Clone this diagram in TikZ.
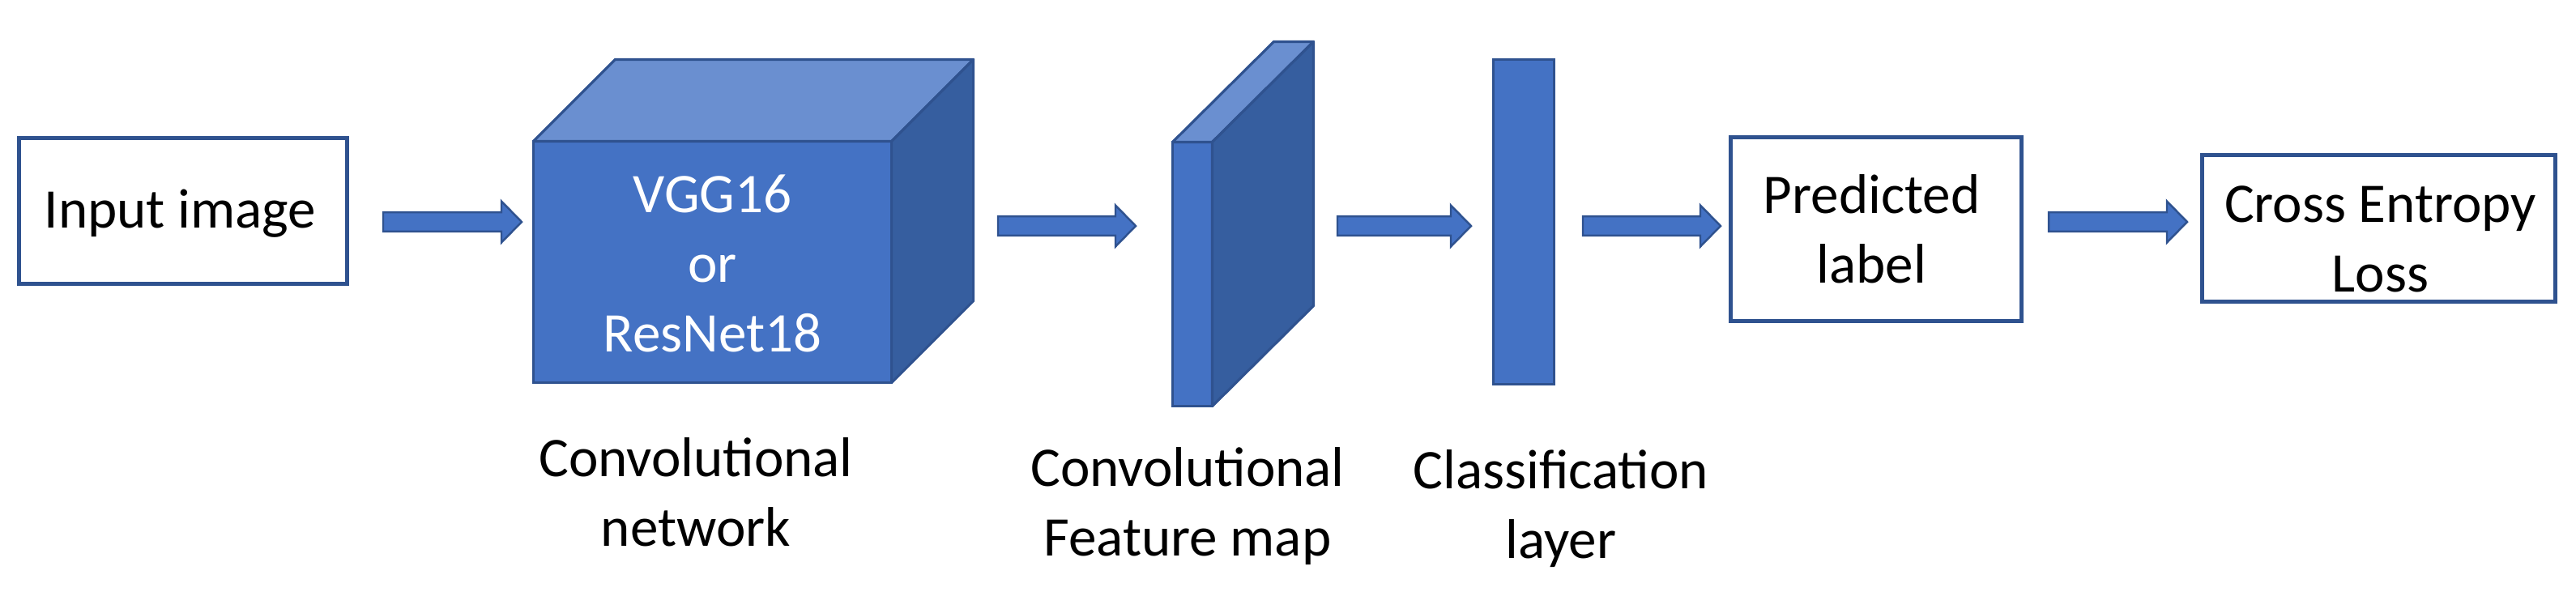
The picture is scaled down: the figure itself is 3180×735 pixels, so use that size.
\documentclass[tikz,border=0pt]{standalone}
\usepackage{fontspec}
\setmainfont{Carlito}
\usetikzlibrary{calc}
\definecolor{bfill}{HTML}{4472C4}
\definecolor{bdark}{HTML}{2F528F}
\definecolor{btop}{HTML}{6A8FD0}
\definecolor{bside}{HTML}{365E9F}
\newcommand\lblfont{\fontsize{19.64pt}{24.47pt}\selectfont}
\newcommand\twolines[2]{\begin{tabular}[t]{@{}c@{}}#1\\#2\end{tabular}}
\newcommand\blockarrow[2]{%
  \draw[arrowstyle] let \p1=(#1), \p2=(#2) in
    (\x1,{\y1+0.118cm}) -- ({\x2-0.25cm},{\y1+0.118cm}) -- ({\x2-0.25cm},{\y1+0.255cm})
    -- (\x2,\y1) -- ({\x2-0.25cm},{\y1-0.255cm}) -- ({\x2-0.25cm},{\y1-0.118cm})
    -- (\x1,{\y1-0.118cm}) -- cycle;}
\tikzset{
  outbox/.style={draw=bdark, fill=white, line width=1.4pt, inner sep=0pt, outer sep=0pt},
  solid/.style={draw=bdark, fill=bfill, line width=0.9pt, inner sep=0pt, outer sep=0pt},
  topface/.style={draw=bdark, fill=btop, line width=0.9pt, line join=round},
  sideface/.style={draw=bdark, fill=bside, line width=0.9pt, line join=round},
  arrowstyle/.style={draw=bdark, fill=bfill, line width=0.7pt, line join=miter},
  txt/.style={font=\lblfont, inner sep=0pt, anchor=base, text=black},
  wtxt/.style={txt, text=white}
}
\begin{document}
\begin{tikzpicture}[x=0.01cm, y=-0.01cm]
\useasboundingbox (0,0) rectangle (3180,735);

% boxes
\node[outbox, minimum width=4.05cm, minimum height=1.80cm] (in) at (226,260.5) {};
\node[outbox, minimum width=3.59cm, minimum height=2.27cm] (pred) at (2316,283) {};
\node[outbox, minimum width=4.36cm, minimum height=1.81cm] (loss) at (2936.5,282) {};

% cube (convolutional network)
\node[solid, minimum width=4.42cm, minimum height=2.98cm] (cube) at (879.5,323.5) {};
\path[topface] (cube.north west) -- ($(cube.north west)+(101,-101)$)
  -- ($(cube.north east)+(101,-101)$) -- (cube.north east) -- cycle;
\path[sideface] (cube.north east) -- ($(cube.north east)+(101,-101)$)
  -- ($(cube.south east)+(101,-101)$) -- (cube.south east) -- cycle;

% feature map slab
\node[solid, minimum width=0.49cm, minimum height=3.26cm] (fmap) at (1472,338.5) {};
\path[topface] (fmap.north west) -- ($(fmap.north west)+(125,-124)$)
  -- ($(fmap.north east)+(125,-124)$) -- (fmap.north east) -- cycle;
\path[sideface] (fmap.north east) -- ($(fmap.north east)+(125,-124)$)
  -- ($(fmap.south east)+(125,-124)$) -- (fmap.south east) -- cycle;

% classification layer
\node[solid, minimum width=0.75cm, minimum height=4.01cm] (cls) at (1881,274) {};

% texts
\node[txt] (tin) at (222.5,281) {Input image};
\node[wtxt] (tcube) at (879.5,262) {\begin{tabular}[t]{@{}c@{}}VGG16\\or\\ResNet18\end{tabular}};
\node[txt] (tpred) at (2310.5,263) {\twolines{Predicted}{label}};
\node[txt] (tloss) at (2938.5,274) {\twolines{Cross Entropy}{Loss}};
\node[txt] (tnet) at (859,588) {\twolines{Convolutional}{network}};
\node[txt] (tfmap) at (1466,600) {\twolines{Convolutional}{Feature map}};
\node[txt] (tcls) at (1927,603) {\twolines{Classification}{layer}};

% arrow end points
\coordinate (a1s) at (473,274);  \coordinate (a1e) at (644,274);
\coordinate (a2s) at (1232,279); \coordinate (a2e) at (1402,279);
\coordinate (a3s) at (1651,279); \coordinate (a3e) at (1816,279);
\coordinate (a4s) at (1954,279); \coordinate (a4e) at (2124,279);
\coordinate (a5s) at (2529,274); \coordinate (a5e) at (2700,274);
\blockarrow{a1s}{a1e}
\blockarrow{a2s}{a2e}
\blockarrow{a3s}{a3e}
\blockarrow{a4s}{a4e}
\blockarrow{a5s}{a5e}
\end{tikzpicture}
\end{document}
